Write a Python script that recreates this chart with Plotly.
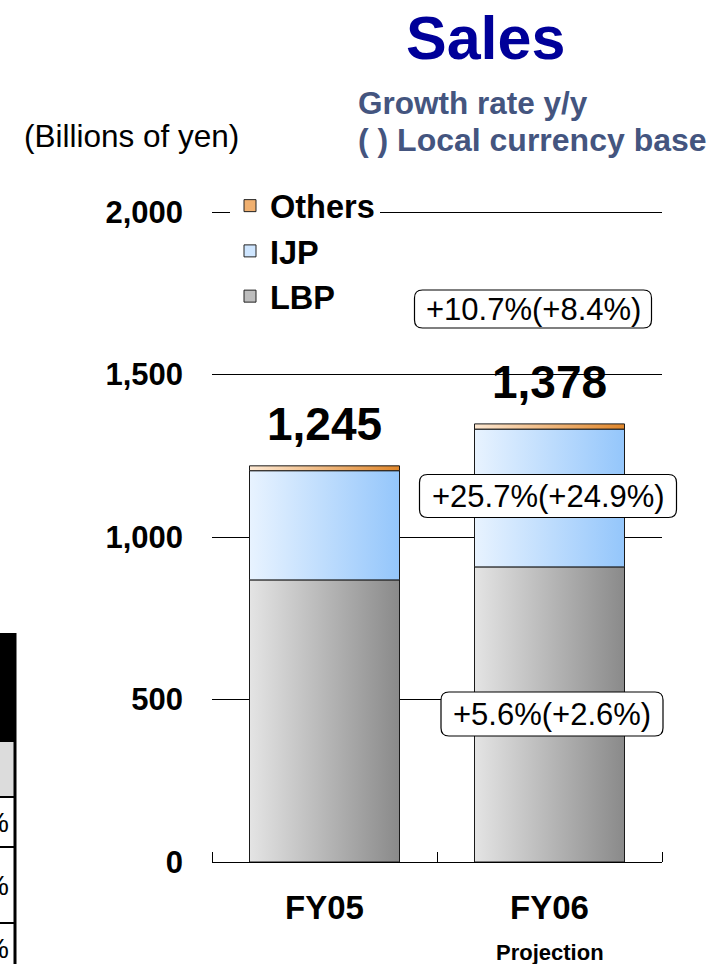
import plotly.graph_objects as go

# values (billions of yen)
categories = ["FY05", "FY06"]
lbp = [868, 908]
ijp = [336, 424]
others = [15, 16]
totals = [1245, 1378]
growth_total = "+10.7%(+8.4%)"
growth_ijp = "+25.7%(+24.9%)"
growth_lbp = "+5.6%(+2.6%)"
y_ticks = [0, 500, 1000, 1500, 2000]

FONT = "Arial, Liberation Sans, sans-serif"
W, H = 715, 964
L, R, T, B = 212, 53, 209, 102
Y_TOP_PX = 212  # pixel row of the 2,000 gridline
y_max = 2000 * (H - B - T) / (H - B - Y_TOP_PX)


def px(x):
    """pixel x -> paper x"""
    return (x - L) / (W - L - R)


def py(y):
    """pixel y -> paper y"""
    return (H - B - y) / (H - T - B)


# name, values, gradient left, gradient right, legend colour
series = [
    ("LBP", lbp, "#e4e4e4", "#8a8a8a", "#bdbdbd"),
    ("IJP", ijp, "#e8f3ff", "#94c6fb", "#cfe6ff"),
    ("Others", others, "#fde8d2", "#e0862a", "#f0b070"),
]
half = 1 / 3

fig = go.Figure()

# stacked bars drawn as filled rectangles so they can carry a gradient
base = [0] * len(categories)
for name, vals, c0, c1, _ in series:
    for i, v in enumerate(vals):
        b = base[i]
        fig.add_trace(go.Scatter(
            x=[i - half, i + half, i + half, i - half, i - half],
            y=[b, b, b + v, b + v, b],
            mode="lines",
            fill="toself",
            fillgradient=dict(type="horizontal", colorscale=[[0, c0], [1, c1]]),
            line=dict(color="#1a1a1a", width=1),
            showlegend=False,
            hoverinfo="skip",
        ))
        base[i] = b + v

# legend entries
for name, _, _, _, mid in reversed(series):
    fig.add_trace(go.Bar(
        x=[None], y=[None], name=name, legendgroup=name,
        marker=dict(color=mid, line=dict(color="#222222", width=1)),
    ))

# totals above the bars
for i, t in enumerate(totals):
    fig.add_annotation(
        x=i, y=base[i], text=f"<b>{t:,}</b>", showarrow=False,
        yanchor="bottom", yshift=14,
        font=dict(family=FONT, size=46, color="black"),
    )


def rounded_box(cx, cy, w, h, r=8):
    x0, x1, y0, y1 = -w / 2, w / 2, -h / 2, h / 2
    path = (f"M{x0 + r},{y0} L{x1 - r},{y0} Q{x1},{y0} {x1},{y0 + r} "
            f"L{x1},{y1 - r} Q{x1},{y1} {x1 - r},{y1} L{x0 + r},{y1} "
            f"Q{x0},{y1} {x0},{y1 - r} L{x0},{y0 + r} Q{x0},{y0} {x0 + r},{y0} Z")
    fig.add_shape(type="path", path=path, xref="paper", yref="paper",
                  xsizemode="pixel", ysizemode="pixel",
                  xanchor=px(cx), yanchor=py(cy),
                  fillcolor="white", line=dict(color="black", width=1.2),
                  layer="above")


def text(x, y, s, size, color="black", xanchor="center", xref="paper"):
    fig.add_annotation(x=x, y=py(y), xref=xref, yref="paper", text=s,
                       showarrow=False, xanchor=xanchor, yanchor="middle",
                       font=dict(family=FONT, size=size, color=color))


growth_boxes = [
    (growth_total, 533, 309, 237, 38),
    (growth_ijp, 548, 496, 257, 43),
    (growth_lbp, 552, 714, 222, 44),
]
for s, cx, cy, w, h in growth_boxes:
    rounded_box(cx, cy, w, h)
    text(px(cx), cy, s, 31)

# header texts
text(px(485), 38, "<b>Sales</b>", 61, color="#000099")
text(px(356), 103, "<b>Growth rate y/y</b>", 31.5, color="#44557f", xanchor="left")
text(px(356), 140, "<b>( ) Local currency base</b>", 32, color="#44557f", xanchor="left")
text(px(22), 136, "(Billions of yen)", 31.5, xanchor="left")
text(1, 952, "<b>Projection</b>", 22, xref="x")

# fragment of a neighbouring table cut off at the left edge
fig.add_shape(type="rect", xref="paper", yref="paper", x0=px(-5), x1=px(16),
              y0=py(742), y1=py(633), fillcolor="black", line_width=0)
fig.add_shape(type="rect", xref="paper", yref="paper", x0=px(-5), x1=px(14),
              y0=py(797), y1=py(742), fillcolor="#dcdcdc", line_width=0)
fig.add_shape(type="line", xref="paper", yref="paper", x0=px(15), x1=px(15),
              y0=py(970), y1=py(633), line=dict(color="black", width=3))
for yy in [797, 847, 923]:
    fig.add_shape(type="line", xref="paper", yref="paper", x0=px(-5), x1=px(15),
                  y0=py(yy), y1=py(yy), line=dict(color="black", width=2))
for yy in [822, 885, 948]:
    text(px(11), yy, "%", 28, xanchor="right")

fig.update_layout(
    width=W, height=H,
    margin=dict(l=L, r=R, t=T, b=B),
    paper_bgcolor="white", plot_bgcolor="white",
    font=dict(family=FONT, color="black"),
    showlegend=True,
    legend=dict(
        x=px(230), y=py(178), xanchor="left", yanchor="top",
        bgcolor="white", borderwidth=0, traceorder="normal",
        tracegroupgap=13,
        font=dict(family=FONT, size=32.5, color="black", weight="bold"),
    ),
    xaxis=dict(
        range=[-0.5, 1.5], tickvals=[0, 1], ticktext=categories,
        ticks="", showline=True, linecolor="black", linewidth=1,
        showgrid=False, zeroline=False, ticklabelstandoff=16,
        tickfont=dict(family=FONT, size=33, color="black", weight="bold"),
        minor=dict(ticks="inside", ticklen=10, tick0=0.5, dtick=1,
                   tickcolor="black", tickwidth=1, showgrid=False),
    ),
    yaxis=dict(
        range=[0, y_max], tickvals=y_ticks, tickformat=",",
        showgrid=True, gridcolor="black", gridwidth=1,
        zeroline=False, showline=False, ticks="", ticklabelstandoff=28,
        tickfont=dict(family=FONT, size=31, color="black", weight="bold"),
    ),
)

fig.write_html("out.html", config={"displayModeBar": False},
               post_script="document.body.style.margin = '0';")
